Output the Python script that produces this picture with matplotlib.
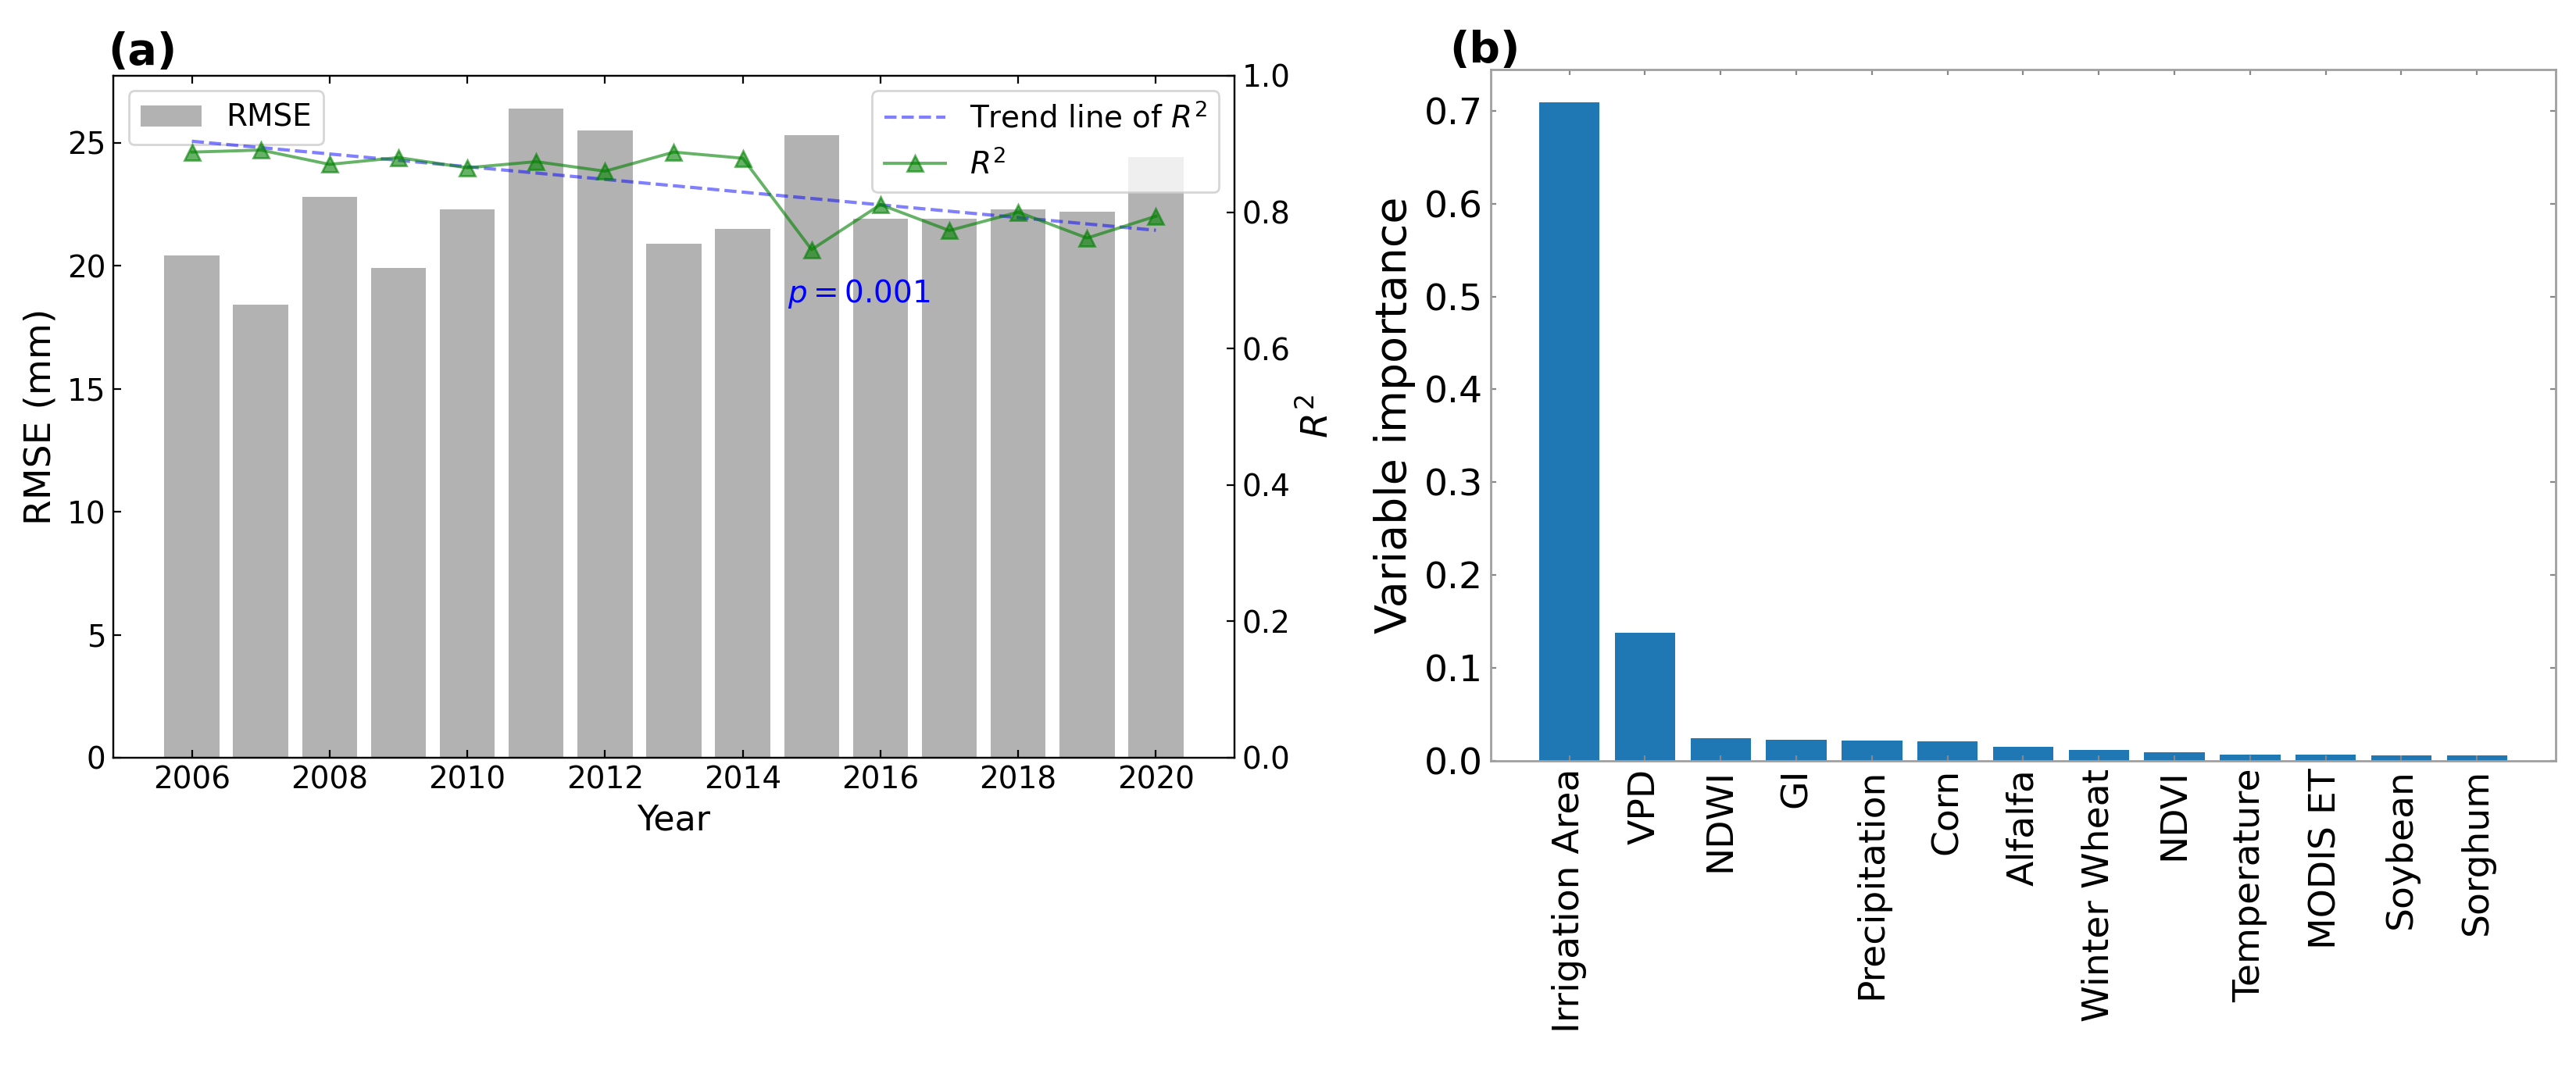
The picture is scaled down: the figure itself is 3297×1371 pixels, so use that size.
import matplotlib
matplotlib.use('Agg')
import matplotlib.pyplot as plt
import numpy as np

# ---------------- data ----------------
years = list(range(2006, 2021))
rmse = [20.4, 18.4, 22.8, 19.9, 22.3, 26.4, 25.5, 20.9, 21.5, 25.3, 21.9, 21.9, 22.3, 22.2, 24.4]
r2 = [0.888, 0.891, 0.870, 0.880, 0.865, 0.874, 0.860, 0.888, 0.879, 0.745,
      0.811, 0.773, 0.800, 0.762, 0.794]
p_label = "$p=0.001$"

features = ["Irrigation Area", "VPD", "NDWI", "GI", "Precipitation", "Corn", "Alfalfa",
            "Winter Wheat", "NDVI", "Temperature", "MODIS ET", "Soybean", "Sorghum"]
importance = [0.709, 0.138, 0.024, 0.023, 0.0215, 0.021, 0.0155, 0.0118, 0.0093,
              0.0065, 0.0063, 0.006, 0.0058]

plt.rcParams['font.family'] = ['DejaVu Sans']

fig = plt.figure(figsize=(16.485, 6.855), dpi=200)

# ---------------- panel (a) ----------------
ax1 = fig.add_axes([0.044, 0.2925, 0.4352, 0.6368])
ax1.bar(years, rmse, width=0.8, color='#b2b2b2', label='RMSE')
ax1.set_xticks(list(range(2006, 2021, 2)))
ax1.tick_params(direction='in', top=True, labelsize=14)
ax1.set_ylabel('RMSE (mm)', fontsize=17)
ax1.set_xlabel('Year', fontsize=16)

ax2 = ax1.twinx()
coef = np.polyfit(years, r2, 1)
trend = np.polyval(coef, years)
ax2.plot(years, trend, '--', color='blue', alpha=0.5, lw=1.5, label='Trend line of $R^2$')
ax2.plot(years, r2, '-^', color='green', alpha=0.6, lw=1.4, ms=7, label='$R^2$')
ax2.set_ylim(0, 1)
ax2.tick_params(direction='in', labelsize=14)
ax2.set_ylabel('$R^2$', fontsize=17)
ax2.text(2014.65, 0.668, p_label, color='blue', fontsize=14)

ax1.legend(loc='upper left', fontsize=14)
ax2.legend(loc='upper right', fontsize=14)

fig.text(0.042, 1 - 82 / 1371, '(a)', fontsize=20, fontweight='bold', ha='left', va='baseline')

# ---------------- panel (b) ----------------
ax3 = fig.add_axes([0.5787, 0.2896, 0.4134, 0.6455])
x = np.arange(len(features))
ax3.bar(x, importance, color='#1f77b4')
ax3.set_xticks(x)
ax3.set_xticklabels(features, rotation=90, fontsize=17)
ax3.tick_params(axis='y', labelsize=17)
ax3.tick_params(direction='in', top=True, right=True, length=2.5, color='#888888')
ax3.set_ylabel('Variable importance', fontsize=20)
for s in ax3.spines.values():
    s.set_color('#a0a0a0')
    s.set_linewidth(1.0)

fig.text(0.5626, 1 - 80 / 1371, '(b)', fontsize=20, fontweight='bold', ha='left', va='baseline')

fig.savefig('out.png', dpi=200)
